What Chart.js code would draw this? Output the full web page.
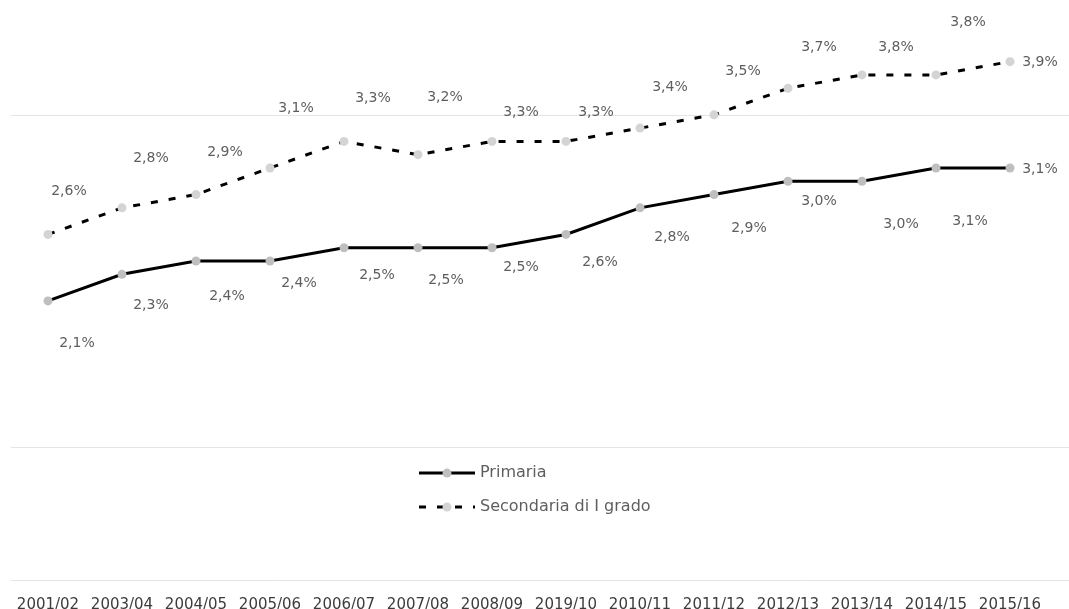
<!DOCTYPE html>
<html lang="it">
<head>
<meta charset="UTF-8">
<title>Primaria e Secondaria di I grado</title>
<script src="https://cdn.jsdelivr.net/npm/chart.js"></script>
<style>
  body { margin: 0; background: #fff; }
  #wrap { width: 1069px; height: 609px; overflow: hidden; }
</style>
</head>
<body>
<div id="wrap"><canvas id="chart" width="1069" height="613"></canvas></div>
<script>
const years = ['2001/02', '2003/04', '2004/05', '2005/06', '2006/07', '2007/08', '2008/09',
               '2019/10', '2010/11', '2011/12', '2012/13', '2013/14', '2014/15', '2015/16'];
const primaria   = [2.1, 2.3, 2.4, 2.4, 2.5, 2.5, 2.5, 2.6, 2.8, 2.9, 3.0, 3.0, 3.1, 3.1];
const secondaria = [2.6, 2.8, 2.9, 3.1, 3.3, 3.2, 3.3, 3.3, 3.4, 3.5, 3.7, 3.8, 3.8, 3.9];
const gridValues = [0, 1, 3.5];

// where each value label sits relative to its point (px)
const primariaShift = [[29, 42], [29, 31], [31, 35], [29, 22], [33, 28], [28, 33], [29, 20],
                       [34, 28], [32, 30], [35, 34], [31, 20], [39, 43], [34, 53], [30, 1]];
const secondariaShift = [[21, -43], [29, -49], [29, -42], [26, -60], [29, -43], [27, -57], [29, -29],
                         [30, -29], [30, -41], [29, -43], [31, -41], [34, -28], [32, -53], [30, 1]];

const FONT = "'DejaVu Sans', sans-serif";

// horizontal rules, running out to the right edge of the canvas
const rules = {
  id: 'rules',
  beforeDatasetsDraw(chart) {
    const { ctx, chartArea, scales: { y } } = chart;
    ctx.save();
    ctx.strokeStyle = '#e4e4e4';
    ctx.lineWidth = 1;
    gridValues.forEach(v => {
      const py = Math.round(y.getPixelForValue(v)) + 0.5;
      ctx.beginPath();
      ctx.moveTo(chartArea.left, py);
      ctx.lineTo(chart.width, py);
      ctx.stroke();
    });
    ctx.restore();
  }
};

const valueLabels = {
  id: 'valueLabels',
  afterDatasetsDraw(chart) {
    const { ctx } = chart;
    ctx.save();
    ctx.font = '14px ' + FONT;
    ctx.fillStyle = '#5e5e5e';
    ctx.textAlign = 'center';
    ctx.textBaseline = 'middle';
    chart.data.datasets.forEach((ds, di) => {
      chart.getDatasetMeta(di).data.forEach((pt, i) => {
        const [dx, dy] = ds.labelShift[i];
        ctx.fillText(ds.data[i].toFixed(1).replace('.', ',') + '%', pt.x + dx, pt.y + dy);
      });
    });
    ctx.restore();
  }
};

// legend inside the lower part of the plot
const innerLegend = {
  id: 'innerLegend',
  afterDraw(chart) {
    const { ctx } = chart;
    const y = chart.scales.y;
    const top = y.getPixelForValue(1);
    const sample = 56, gap = 5;
    ctx.save();
    ctx.font = '16px ' + FONT;
    const textW = Math.max(...chart.data.datasets.map(d => ctx.measureText(d.label).width));
    const left = Math.round(chart.width / 2 - (sample + gap + textW) / 2);
    chart.data.datasets.forEach((ds, i) => {
      const cy = top + 26 + i * 34;
      ctx.strokeStyle = ds.borderColor;
      ctx.lineWidth = ds.borderWidth;
      ctx.setLineDash(ds.borderDash || []);
      ctx.beginPath();
      ctx.moveTo(left, cy);
      ctx.lineTo(left + sample, cy);
      ctx.stroke();
      ctx.setLineDash([]);
      ctx.fillStyle = ds.pointBackgroundColor;
      ctx.beginPath();
      ctx.arc(left + sample / 2, cy, ds.pointRadius, 0, Math.PI * 2);
      ctx.fill();
      ctx.fillStyle = '#5e5e5e';
      ctx.textBaseline = 'middle';
      ctx.fillText(ds.label, left + sample + gap, cy);
    });
    ctx.restore();
  }
};

new Chart(document.getElementById('chart'), {
  type: 'line',
  data: {
    labels: years,
    datasets: [
      {
        label: 'Primaria',
        data: primaria,
        labelShift: primariaShift,
        borderColor: '#000',
        borderWidth: 3,
        pointRadius: 4.5,
        pointBackgroundColor: '#bfbfbf',
        pointBorderWidth: 0,
        tension: 0
      },
      {
        label: 'Secondaria di I grado',
        data: secondaria,
        labelShift: secondariaShift,
        borderColor: '#000',
        borderWidth: 3,
        borderDash: [7, 11],
        pointRadius: 4.5,
        pointBackgroundColor: '#d4d4d4',
        pointBorderWidth: 0,
        tension: 0
      }
    ]
  },
  options: {
    responsive: false,
    animation: false,
    layout: { padding: { left: 11, right: 22, top: 0, bottom: 0 } },
    plugins: { legend: { display: false }, tooltip: { enabled: false } },
    scales: {
      x: {
        offset: true,
        grid: { display: false },
        border: { display: false },
        ticks: { color: '#3c3c3c', font: { family: FONT, size: 15 }, padding: 8, maxRotation: 0, autoSkip: false },
        afterFit(scale) { scale.height = 33; }
      },
      y: {
        display: false,
        min: 0,
        max: 4.33
      }
    }
  },
  plugins: [rules, valueLabels, innerLegend]
});
</script>
</body>
</html>
